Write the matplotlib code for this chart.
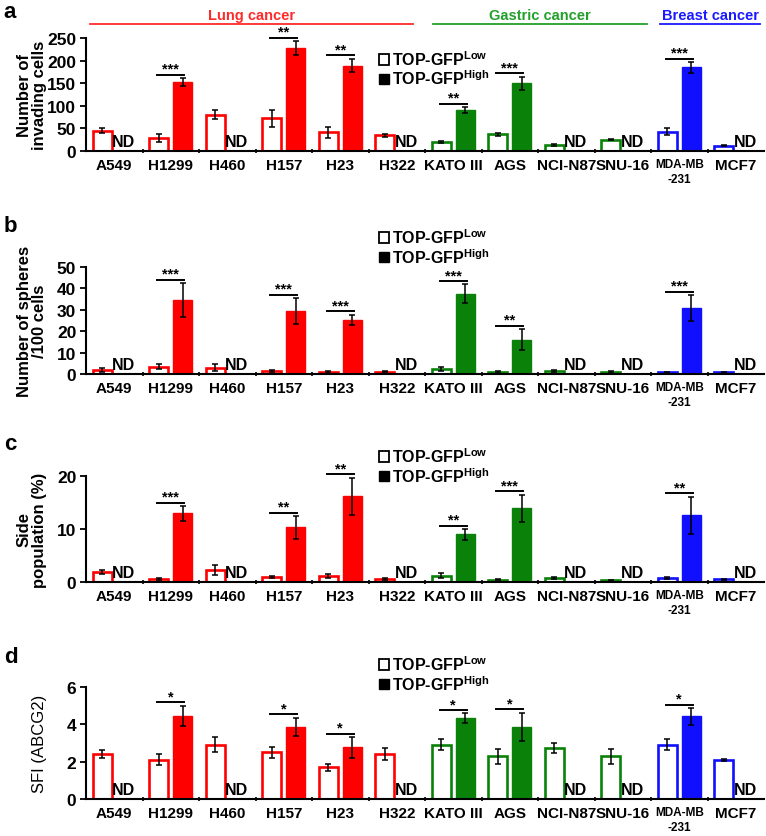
import numpy as np
import matplotlib
matplotlib.use("Agg")
import matplotlib.pyplot as plt
from matplotlib.patches import Patch
from matplotlib.transforms import blended_transform_factory

plt.rcParams["font.family"] = ["Liberation Sans", "DejaVu Sans"]
plt.rcParams["font.weight"] = "bold"
plt.rcParams["mathtext.default"] = "regular"

nan = np.nan

cell_lines = ["A549", "H1299", "H460", "H157", "H23", "H322", "KATO III", "AGS",
              "NCI-N87", "SNU-16", "MDA-MB\n-231", "MCF7"]
cancer_type = ["lung"] * 6 + ["gastric"] * 4 + ["breast"] * 2
type_names = {"lung": "Lung cancer", "gastric": "Gastric cancer", "breast": "Breast cancer"}

# (a) invasion
invasion_low = [45, 29, 80, 72, 41, 35, 20, 37, 13, 25, 43, 12]
invasion_low_err = [5, 8, 10, 19, 13, 3, 3, 3, 2, 1, 8, 1]
invasion_high = [nan, 152, nan, 228, 189, nan, 91, 150, nan, nan, 185, nan]
invasion_high_err = [nan, 9, nan, 15, 15, nan, 6, 14, nan, nan, 12, nan]
invasion_sig = ["", "***", "", "**", "**", "", "**", "***", "", "", "***", ""]

# (b) spheres
sphere_low = [2, 3.5, 3, 1.3, 1, 1, 2.3, 1, 1.3, 1, 0.8, 0.8]
sphere_low_err = [1, 1.2, 1.5, 0.4, 0.3, 0.2, 1, 0.3, 0.4, 0.4, 0.2, 0.2]
sphere_high = [nan, 34.5, nan, 29.5, 25.3, nan, 37.5, 16, nan, nan, 31, nan]
sphere_high_err = [nan, 8, nan, 6, 2.5, nan, 4.5, 5, nan, nan, 6, nan]
sphere_sig = ["", "***", "", "***", "***", "", "***", "**", "", "", "***", ""]

# (c) side population
side_low = [1.9, 0.6, 2.3, 0.9, 1.2, 0.6, 1.2, 0.4, 0.7, 0.3, 0.7, 0.5]
side_low_err = [0.4, 0.2, 1.0, 0.2, 0.4, 0.2, 0.5, 0.1, 0.2, 0.1, 0.2, 0.1]
side_high = [nan, 13, nan, 10.3, 16.2, nan, 9, 13.9, nan, nan, 12.6, nan]
side_high_err = [nan, 1.4, nan, 2.2, 3.5, nan, 1, 2.6, nan, nan, 3.5, nan]
side_sig = ["", "***", "", "**", "**", "", "**", "***", "", "", "**", ""]

# (d) SFI
sfi_low = [2.41, 2.1, 2.9, 2.5, 1.7, 2.41, 2.9, 2.29, 2.71, 2.29, 2.9, 2.09]
sfi_low_err = [0.2, 0.3, 0.4, 0.3, 0.2, 0.3, 0.3, 0.4, 0.27, 0.4, 0.3, 0.05]
sfi_high = [nan, 4.45, nan, 3.85, 2.77, nan, 4.34, 3.87, nan, nan, 4.43, nan]
sfi_high_err = [nan, 0.55, nan, 0.5, 0.55, nan, 0.25, 0.75, nan, nan, 0.45, nan]
sfi_sig = ["", "*", "", "*", "*", "", "*", "*", "", "", "*", ""]

colors = {"lung": "#ff0000", "gastric": "#0a820a", "breast": "#1010ff"}
title_colors = {"lung": "#ff2a2a", "gastric": "#22a02a", "breast": "#1a1aff"}

W, H = 766, 837
fig = plt.figure(figsize=(W / 100, H / 100), dpi=100)


def px_rect(top_px, bottom_px):
    left = 86 / W
    width = 678 / W
    return [left, 1 - bottom_px / H, width, (bottom_px - top_px) / H]


def bar_panel(ax, low, low_err, high, high_err, sig, ymax, yticks, ylabel,
              legend_top, label_bold=True):
    x = np.arange(len(cell_lines))
    cols = [colors[c] for c in cancer_type]
    low = np.array(low, float)
    high = np.array(high, float)
    low_err = np.array(low_err, float)
    high_err = np.array(high_err, float)
    xl = x - 0.21
    xh = x + 0.21
    ax.bar(xl, low, width=0.34, color="white", edgecolor=cols, linewidth=1.9, zorder=2)
    ok = ~np.isnan(high)
    ax.bar(xh[ok], high[ok], width=0.34, color=np.array(cols)[ok],
           edgecolor=np.array(cols)[ok], linewidth=1, zorder=2)
    ax.errorbar(xl, low, yerr=low_err, fmt="none", ecolor="black", elinewidth=1.1,
                capsize=2, capthick=1.1, zorder=3)
    ax.errorbar(xh[ok], high[ok], yerr=high_err[ok], fmt="none", ecolor="black",
                elinewidth=1.1, capsize=2, capthick=1.1, zorder=3, clip_on=False)

    trans = blended_transform_factory(ax.transData, ax.transAxes)
    for i in range(len(x)):
        if not ok[i]:
            ax.text(x[i] + 0.17, 0.02, "ND", transform=trans, ha="center",
                    va="bottom", fontsize=11.5, fontweight="bold")
        if sig[i]:
            top = high[i] + high_err[i] + 0.03 * ymax
            ax.plot([xl[i] - 0.03, xh[i] + 0.03], [top, top], color="black",
                    lw=1.4, clip_on=False)
            ax.text((xl[i] + xh[i]) / 2, top - 0.01 * ymax, sig[i], ha="center",
                    va="bottom", fontsize=10.5, fontweight="bold")

    ax.set_xlim(-0.5, 11.5)
    ax.set_ylim(0, ymax)
    ax.set_yticks(yticks)
    ax.set_xticks(x)
    ax.set_xticklabels(cell_lines)
    ax.tick_params(axis="x", which="major", length=0, pad=5, labelsize=11)
    for lab in ax.get_xticklabels():
        if "MDA" in lab.get_text():
            lab.set_fontsize(8.5)
            lab.set_linespacing(1.35)
    ax.set_xticks(np.arange(0.5, 11, 1), minor=True)
    ax.tick_params(axis="x", which="minor", length=3, width=1.2, direction="inout")
    ax.tick_params(axis="y", length=4, width=1.3, labelsize=12.5, pad=3)
    for lab in ax.get_xticklabels() + ax.get_yticklabels():
        lab.set_fontweight("bold")
    ax.spines["top"].set_visible(False)
    ax.spines["right"].set_visible(False)
    ax.spines["left"].set_linewidth(1.5)
    ax.spines["bottom"].set_linewidth(1.5)
    ax.set_ylabel(ylabel, fontsize=12, fontweight="bold" if label_bold else "normal",
                  linespacing=1.0)
    ax.yaxis.set_label_coords(-0.058, 0.5)

    handles = [Patch(facecolor="white", edgecolor="black", linewidth=1.3),
               Patch(facecolor="black", edgecolor="black")]
    labels = ["TOP-GFP$^{Low}$", "TOP-GFP$^{High}$"]
    ax.legend(handles, labels, loc="upper left", bbox_to_anchor=(0.432, legend_top),
              frameon=False, borderpad=0, borderaxespad=0, handlelength=0.65,
              handleheight=0.65, handletextpad=0.15, labelspacing=0.05,
              prop={"weight": "bold", "size": 11.5})


ax_a = fig.add_axes(px_rect(39, 152))
bar_panel(ax_a, invasion_low, invasion_low_err, invasion_high, invasion_high_err,
          invasion_sig, 250, [0, 50, 100, 150, 200, 250], "Number of\ninvading cells", 0.9)

ax_b = fig.add_axes(px_rect(268, 375))
bar_panel(ax_b, sphere_low, sphere_low_err, sphere_high, sphere_high_err,
          sphere_sig, 50, [0, 10, 20, 30, 40, 50], "Number of spheres\n/100 cells", 1.37)

ax_c = fig.add_axes(px_rect(477, 583))
bar_panel(ax_c, side_low, side_low_err, side_high, side_high_err,
          side_sig, 20, [0, 10, 20], "Side\npopulation (%)", 1.28)

ax_d = fig.add_axes(px_rect(688, 800))
bar_panel(ax_d, sfi_low, sfi_low_err, sfi_high, sfi_high_err,
          sfi_sig, 6, [0, 2, 4, 6], "SFI (ABCG2)", 1.29, label_bold=False)

# cancer type headers above panel a
trans = blended_transform_factory(ax_a.transData, ax_a.transAxes)
spans = {"lung": (-0.43, 5.29), "gastric": (5.64, 9.43), "breast": (9.66, 11.43)}
for key, (x0, x1) in spans.items():
    ax_a.plot([x0, x1], [1.124, 1.124], color=title_colors[key], lw=1.3,
              transform=trans, clip_on=False)
    ax_a.text((x0 + x1) / 2, 1.14, type_names[key], color=title_colors[key],
              transform=trans, ha="center", va="bottom", fontsize=10.5,
              fontweight="bold")

for letter, ypx in [("a", 12), ("b", 227), ("c", 445), ("d", 658)]:
    fig.text(0.005, 1 - ypx / H, letter, fontsize=16, fontweight="bold", va="center")

fig.savefig("out.png", dpi=100)
